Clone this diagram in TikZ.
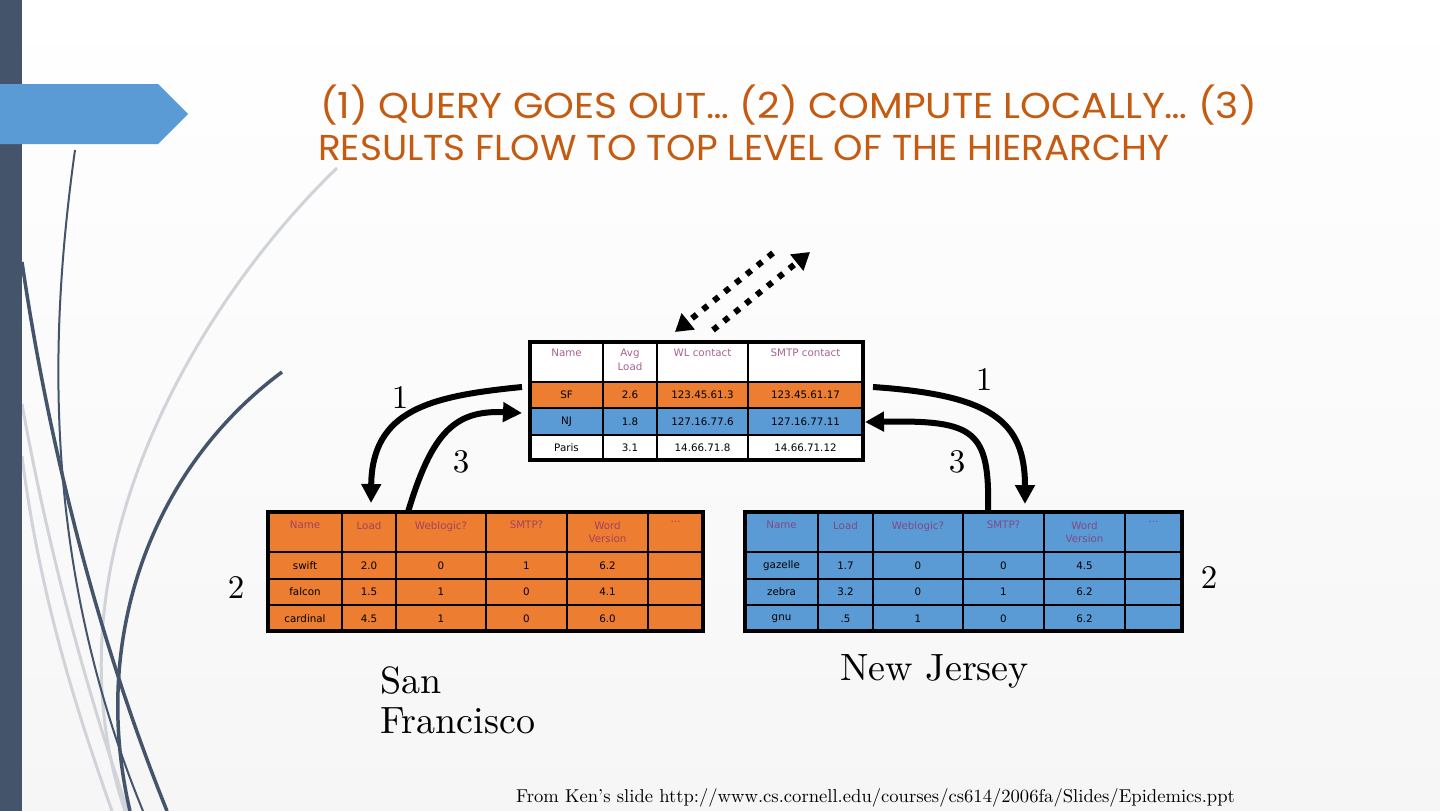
\documentclass[tikz,border=0pt]{standalone}
\usepackage{fontspec}
\usetikzlibrary{arrows.meta}
\newfontfamily\titlefont{Poppins}
\newfontfamily\cellfont{DejaVu Sans}
\newfontfamily\lmten{lmroman10-regular.otf}
\definecolor{slate}{RGB}{68,84,106}
\definecolor{banner}{RGB}{91,155,213}
\definecolor{torange}{RGB}{237,125,49}
\definecolor{tblue}{RGB}{91,155,213}
\definecolor{titlec}{RGB}{197,90,17}
\definecolor{hdr}{RGB}{140,45,110}
\definecolor{swgray}{RGB}{208,212,217}
\definecolor{bgbottom}{RGB}{246,246,246}
\tikzset{
  cell/.style={font=\cellfont\fontsize{10.3}{13.5}\selectfont, inner sep=0pt, align=center},
  hcell/.style={cell, text=hdr, anchor=north, text opacity=0.75},
  gridline/.style={line width=1.2pt, black},
  tabframe/.style={draw=black, line width=3.5pt, inner sep=0pt, fill=none},
  bigarrow/.style={line width=6pt, -{Triangle[length=19pt,width=19pt]}},
  dotarrow/.style={line width=6pt, dash pattern=on 6pt off 8pt, -{Triangle[length=17pt,width=20pt]}},
  lbl/.style={font=\lmten\fontsize{33}{36}\selectfont, inner sep=0pt},
  city/.style={font=\lmten\fontsize{38}{40}\selectfont, inner sep=0pt, anchor=base west},
  ttl/.style={font=\titlefont\fontsize{36}{40}\selectfont, text=titlec, anchor=base west, inner sep=0pt},
  swdark/.style={draw=slate, line width=3.5pt},
  swthin/.style={draw=slate, line width=2pt},
  swlight/.style={draw=swgray, line width=3pt},
}
\begin{document}
\begin{tikzpicture}[x=1pt,y=-1pt]
\useasboundingbox (0,0) rectangle (1440,811);
% background
\fill[top color=white, bottom color=bgbottom] (0,0) rectangle (1440,811);
% swooshes
\draw[swlight] (337,168) .. controls (200,300) and (40,560) .. (125,811);
\draw[swlight] (22,404) .. controls (50,560) and (90,700) .. (128,811);
\draw[swlight] (22,456) .. controls (40,600) and (80,720) .. (112,811);
\draw[swdark] (22,262) .. controls (45,420) and (90,620) .. (167,811);
\draw[swthin] (75,150) .. controls (50,330) and (40,560) .. (143,811);
\draw[swdark] (282,372) .. controls (150,470) and (90,640) .. (130,811);
% left bar and banner
\fill[slate] (0,0) rectangle (22,811);
\fill[banner] (0,84) -- (158,84) -- (188,114) -- (158,144) -- (0,144) -- cycle;
% title
\node[ttl] (title1) at (320,118) {\scalebox{1.088}[1]{(1) QUERY GOES OUT… (2) COMPUTE LOCALLY… (3)}};
\node[ttl] (title2) at (318,160) {\scalebox{1.04}[1]{RESULTS FLOW TO TOP LEVEL OF THE HIERARCHY}};

% ---------- top table ----------
\fill[white] (530,342) rectangle (863,382);
\fill[torange] (530,382) rectangle (863,408);
\fill[tblue] (530,408) rectangle (863,435);
\fill[white] (530,435) rectangle (863,460);
\foreach \x in {603,657,748} \draw[gridline] (\x,342) -- (\x,460);
\foreach \y in {382,408,435} \draw[gridline] (530,\y) -- (863,\y);
\node[hcell] (th1) at (566.5,349) {Name};
\node[hcell] (th2) at (630,349) {Avg\\Load};
\node[hcell] (th3) at (702.5,349) {WL contact};
\node[hcell] (th4) at (805.5,349) {SMTP contact};
\node[cell] (t11) at (566.5,395) {SF};
\node[cell] (t12) at (630,395) {2.6};
\node[cell] (t13) at (702.5,395) {123.45.61.3};
\node[cell] (t14) at (805.5,395) {123.45.61.17};
\node[cell] (t21) at (566.5,421.5) {NJ};
\node[cell] (t22) at (630,421.5) {1.8};
\node[cell] (t23) at (702.5,421.5) {127.16.77.6};
\node[cell] (t24) at (805.5,421.5) {127.16.77.11};
\node[cell] (t31) at (566.5,447.5) {Paris};
\node[cell] (t32) at (630,447.5) {3.1};
\node[cell] (t33) at (702.5,447.5) {14.66.71.8};
\node[cell] (t34) at (805.5,447.5) {14.66.71.12};
\node[tabframe, minimum width=333pt, minimum height=118pt] (toptab) at (696.5,401) {};

% ---------- San Francisco table ----------
\fill[torange] (268,512) rectangle (703,631);
\foreach \x in {342,396,486,567,648} \draw[gridline] (\x,512) -- (\x,631);
\foreach \y in {552,579,605} \draw[gridline] (268,\y) -- (703,\y);
\node[hcell] (sh1) at (305,521) {Name};
\node[hcell] (sh2) at (369,521) {Load};
\node[hcell] (sh3) at (441,521) {Weblogic?};
\node[hcell] (sh4) at (526.5,521) {SMTP?};
\node[hcell] (sh5) at (607.5,521) {Word\\Version};
\node[hcell] (sh6) at (675.5,521) {...};
\foreach \a/\b/\c/\d/\e [count=\i] in {swift/2.0/0/1/6.2, falcon/1.5/1/0/4.1, cardinal/4.5/1/0/6.0}{
  \pgfmathsetmacro\yy{539+26.5*\i}
  \node[cell] (sf\i a) at (305,\yy) {\a};
  \node[cell] (sf\i b) at (369,\yy) {\b};
  \node[cell] (sf\i c) at (441,\yy) {\c};
  \node[cell] (sf\i d) at (526.5,\yy) {\d};
  \node[cell] (sf\i e) at (607.5,\yy) {\e};
}
\node[tabframe, minimum width=435pt, minimum height=119pt] (sftab) at (485.5,571.5) {};

% ---------- New Jersey table ----------
\fill[tblue] (745,512) rectangle (1182,631);
\foreach \x in {818,873,963,1044,1125} \draw[gridline] (\x,512) -- (\x,631);
\foreach \y in {552,579,605} \draw[gridline] (745,\y) -- (1182,\y);
\node[hcell] (nh1) at (781.5,521) {Name};
\node[hcell] (nh2) at (845.5,521) {Load};
\node[hcell] (nh3) at (918,521) {Weblogic?};
\node[hcell] (nh4) at (1003.5,521) {SMTP?};
\node[hcell] (nh5) at (1084.5,521) {Word\\Version};
\node[hcell] (nh6) at (1153.5,521) {...};
\foreach \a/\b/\c/\d/\e [count=\i] in {gazelle/1.7/0/0/4.5, zebra/3.2/0/1/6.2, gnu/.5/1/0/6.2}{
  \pgfmathsetmacro\yy{539+26.5*\i}
  \node[cell] (nj\i a) at (781.5,\yy) {\a};
  \node[cell] (nj\i b) at (845.5,\yy) {\b};
  \node[cell] (nj\i c) at (918,\yy) {\c};
  \node[cell] (nj\i d) at (1003.5,\yy) {\d};
  \node[cell] (nj\i e) at (1084.5,\yy) {\e};
}
\node[tabframe, minimum width=437pt, minimum height=119pt] (njtab) at (963.5,571.5) {};

% ---------- arrow end points ----------
\coordinate (l1s) at (522,387);
\coordinate (l1e) at (371,503);
\coordinate (l3s) at (408,512);
\coordinate (l3e) at (522,413);
\coordinate (r1s) at (873,387);
\coordinate (r1e) at (1025,504);
\coordinate (r3s) at (988,512);
\coordinate (r3e) at (865,422);
\coordinate (d1s) at (773,253);
\coordinate (d1e) at (675,332);
\coordinate (d2s) at (713,330);
\coordinate (d2e) at (810,252);

\draw[bigarrow] (l1s) .. controls (430,396) and (372,410) .. (l1e);
\draw[bigarrow] (l3s) .. controls (432,432) and (455,410) .. (l3e);
\draw[bigarrow] (r1s) .. controls (990,395) and (1025,420) .. (r1e);
\draw[bigarrow] (r3s) .. controls (990,430) and (975,420) .. (r3e);
\draw[dotarrow] (d1s) -- (d1e);
\draw[dotarrow] (d2s) -- (d2e);

% labels
\node[lbl] (n1l) at (400,398) {1};
\node[lbl] (n3l) at (461,462) {3};
\node[lbl] (n1r) at (984,380) {1};
\node[lbl] (n3r) at (957,462) {3};
\node[lbl] (n2l) at (236,588) {2};
\node[lbl] (n2r) at (1209,578) {2};

\node[city] (sfname1) at (380,693) {San};
\node[city] (sfname2) at (380,733) {Francisco};
\node[city] (njname) at (840,680) {New Jersey};

\node[font=\lmten\fontsize{18.6}{22}\selectfont, anchor=base west, inner sep=0pt] (credit) at (516,802) {From Ken’s slide http://www.cs.cornell.edu/courses/cs614/2006fa/Slides/Epidemics.ppt};
\end{tikzpicture}
\end{document}
